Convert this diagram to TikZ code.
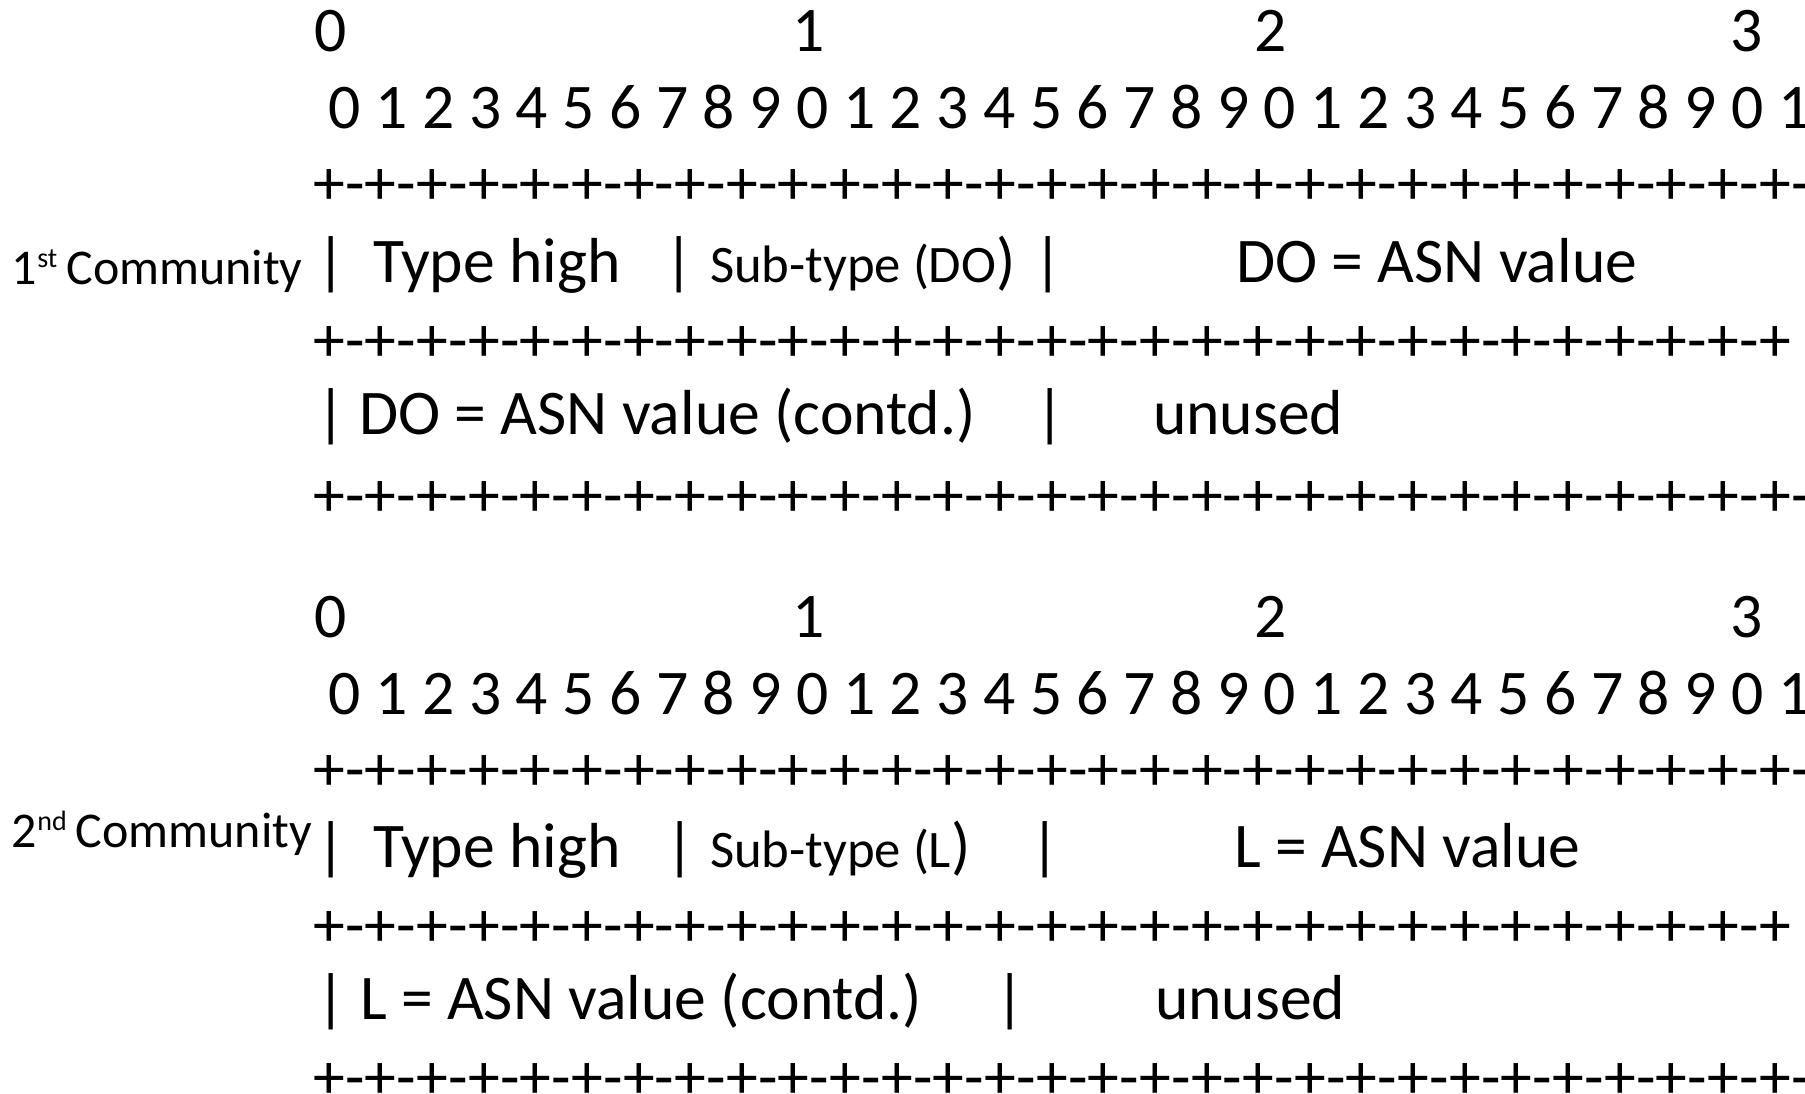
\documentclass[tikz,border=0pt]{standalone}
\usepackage{fontspec}
\setmainfont{Carlito}
\newcommand\bigf{\fontsize{63.6}{76}\selectfont}
\newcommand\subf{\fontsize{52.7}{63}\selectfont}
\newcommand\labf{\fontsize{50}{60}\selectfont}
\newcommand\supf{\fontsize{28}{34}\selectfont}
\tikzset{
  tw/.style={inner sep=0pt, outer sep=0pt, anchor=base west, font=\bigf},
  tc/.style={inner sep=0pt, outer sep=0pt, anchor=base, font=\bigf},
  lab/.style={inner sep=0pt, outer sep=0pt, anchor=base west, font=\labf},
}
% #1 name prefix, #2 baseline y, #3 last plus index, #4 last hyphen index
\newcommand\plusrow[4]{%
  \foreach \k in {0,...,#3} {\node[tc] (#1p\k) at ({329+51.64*\k},-#2) {+};}
  \foreach \k in {0,...,#4} {\node[tc] (#1h\k) at ({354.82+51.64*\k},-#2) {-};}
}
% #1 name prefix, #2 header baseline, #3 digit baseline
\newcommand\bitheader[3]{%
  \node[tc] (#1H0) at (331,-#2) {0};
  \node[tc] (#1H1) at (809,-#2) {1};
  \node[tc] (#1H2) at (1271,-#2) {2};
  \node[tc] (#1H3) at (1747,-#2) {3};
  \foreach \i in {0,...,31} {%
    \pgfmathtruncatemacro\dg{mod(\i,10)}%
    \node[tc] (#1d\i) at ({345+46.75*\i},-#3) {\dg};}
}
\begin{document}
\begin{tikzpicture}[x=1pt,y=1pt]
\fill[white] (0,0) rectangle (1805,-1094);
\useasboundingbox (0,0) rectangle (1805,-1094);

% ---------- 1st community ----------
\bitheader{a}{52}{129}
\plusrow{ar1}{205}{29}{29}
\node[lab] (alab) at (12,-284) {1\raisebox{17pt}{\supf st}\hspace{9pt}Community};
\node[tc] (ab1) at (331,-282) {|};
\node[tw] (atype) at (373,-282) {Type high};
\node[tc] (ab2) at (679,-282) {|};
\node[tw] (asub) at (710,-282) {{\subf Sub-type (DO}{\bigf )}};
\node[tc] (ab3) at (1048,-282) {|};
\node[tw] (aval) at (1236,-282) {DO = ASN value};
\plusrow{ar2}{361}{28}{27}
\node[tc] (ab4) at (331,-434) {|};
\node[tw] (acont) at (359,-434) {DO = ASN value (contd.)};
\node[tc] (ab5) at (1050,-434) {|};
\node[tw] (aun) at (1153,-434) {unused};
\plusrow{ar3}{516}{29}{29}

% ---------- 2nd community ----------
\bitheader{b}{637}{714}
\plusrow{br1}{790}{29}{29}
\node[lab] (blab) at (12,-847) {2\raisebox{17pt}{\supf nd}\hspace{9pt}Community};
\node[tc] (bb1) at (331,-867) {|};
\node[tw] (btype) at (373,-867) {Type high};
\node[tc] (bb2) at (680,-867) {|};
\node[tw] (bsub) at (710,-867) {{\subf Sub-type (L}{\bigf )}};
\node[tc] (bb3) at (1045,-867) {|};
\node[tw] (bval) at (1234,-867) {L = ASN value};
\plusrow{br2}{946}{28}{27}
\node[tc] (bb4) at (331,-1019) {|};
\node[tw] (bcont) at (360,-1019) {L = ASN value (contd.)};
\node[tc] (bb5) at (1010,-1019) {|};
\node[tw] (bun) at (1155,-1019) {unused};
\node[tc] (bb6) at (1808,-1019) {|};
\plusrow{br3}{1098}{29}{29}
\end{tikzpicture}
\end{document}
